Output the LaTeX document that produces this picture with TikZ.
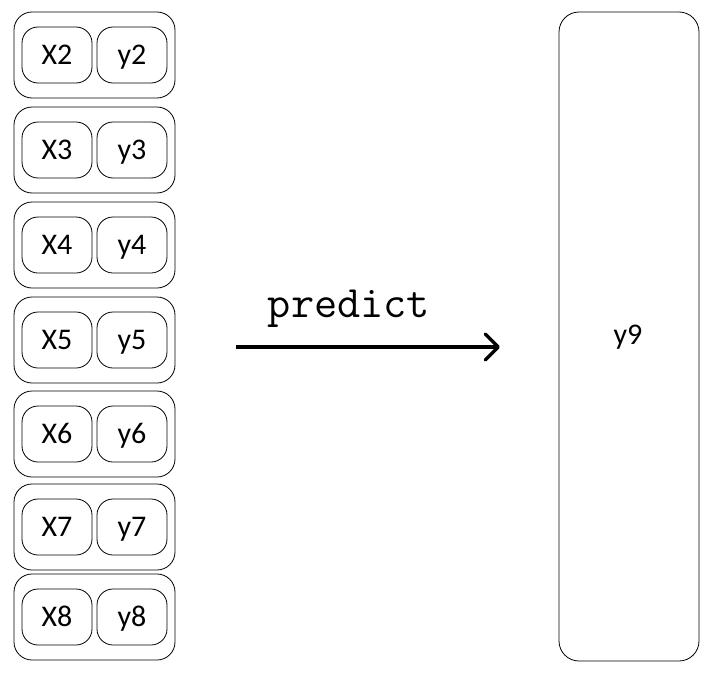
\documentclass[tikz,border=0pt]{standalone}
\usepackage{fontspec}
\setsansfont{Carlito}
\usetikzlibrary{arrows.meta, positioning}

\tikzset{
  pairbox/.style={draw, line width=0.8pt, rounded corners=18pt, minimum width=161pt, minimum height=86pt},
  cellbox/.style={draw, line width=0.8pt, rounded corners=16pt, minimum width=70pt, minimum height=56pt,
                  font=\sffamily\fontsize{30}{34}\selectfont, text height=19pt, text depth=0pt, inner sep=0pt},
  tallbox/.style={draw, line width=0.8pt, rounded corners=20pt, minimum width=140pt, minimum height=649pt,
                  font=\sffamily\fontsize{30}{34}\selectfont, text height=19pt, text depth=0pt, inner sep=0pt},
  predictlabel/.style={font=\ttfamily\fontsize{45}{50}\selectfont, inner sep=0pt},
  predictarrow/.style={line width=3.5pt, -{Straight Barb[length=13pt, width=26pt, line cap=round, line join=round]}}
}

\begin{document}
\begin{tikzpicture}[x=1pt, y=-1pt]
  \useasboundingbox (0,0) rectangle (707,680);

  % input pairs
  \foreach \k/\top in {2/12, 3/107, 4/202, 5/297, 6/391, 7/484, 8/574}{
    \node[pairbox] (row\k) at (94.5, \top+43) {};
    \node[cellbox] (x\k) at (57, \top+43) {X\k};
    \node[cellbox] (y\k) at (132, \top+43) {y\k};
  }

  % target
  \node[tallbox] (target) at (629, 336.5) {};
  \node[font=\sffamily\fontsize{30}{34}\selectfont, inner sep=0pt] (lbl9) at (628, 337) {y9};

  % arrow
  \coordinate (start) at (236, 347);
  \coordinate (stop) at (500, 347);
  \draw[predictarrow] (start) -- (stop);
  \node[predictlabel] (lbl) at (349, 309) {predict};
\end{tikzpicture}
\end{document}
